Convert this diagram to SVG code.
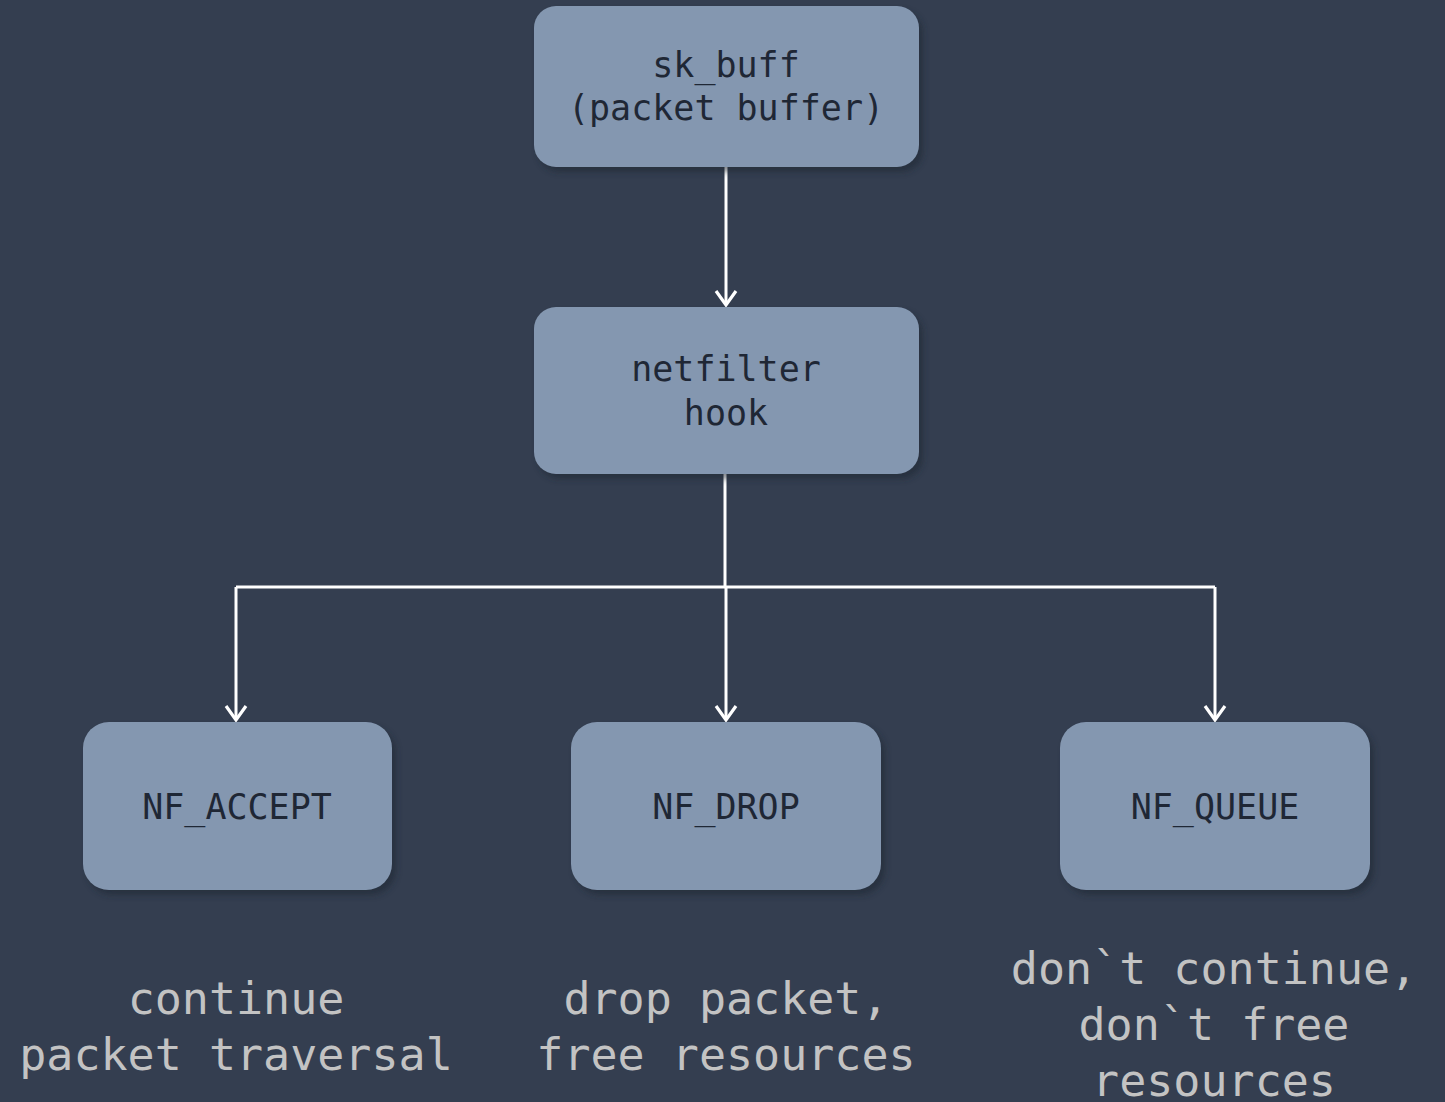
<svg xmlns="http://www.w3.org/2000/svg" width="1445" height="1102" viewBox="0 0 1445 1102">
<style>
.node rect.box{fill:#8497b0;}
.node rect.sh{fill:#1f2633;opacity:0.55;}
.nt{font-family:"DejaVu Sans Mono","Liberation Mono",monospace;font-size:35px;fill:#1f2735;text-anchor:middle;}
.lb{font-family:"DejaVu Sans Mono","Liberation Mono",monospace;font-size:45px;fill:#c3c3c3;text-anchor:middle;}
.conn{stroke:#ffffff;stroke-width:3;fill:none;}
</style>
<defs>
<filter id="blur" x="-10%" y="-10%" width="120%" height="130%"><feGaussianBlur stdDeviation="3"/></filter>
<marker id="arr" viewBox="0 0 24 24" markerWidth="24" markerHeight="24" refX="19" refY="12" orient="auto" markerUnits="userSpaceOnUse">
<path d="M5 2 L19 12 L5 22" fill="none" stroke="#ffffff" stroke-width="3.2"/>
</marker>
</defs>
<rect width="1445" height="1102" fill="#343e50"/>
<g id="connectors">
<path class="conn" d="M726 167 V305" marker-end="url(#arr)"/>
<path class="conn" d="M725 474 V587"/>
<path class="conn" d="M236 587 H1215"/>
<path class="conn" d="M236 587 V720" marker-end="url(#arr)"/>
<path class="conn" d="M726 587 V720" marker-end="url(#arr)"/>
<path class="conn" d="M1215 587 V720" marker-end="url(#arr)"/>
</g>
<g id="node-skbuff" class="node">
<rect class="sh" x="538" y="11" width="385" height="161" rx="22" filter="url(#blur)"/>
<rect class="box" x="534" y="6" width="385" height="161" rx="22"/>
<text class="nt" x="726" y="77">sk_buff</text>
<text class="nt" x="726" y="120">(packet buffer)</text>
</g>
<g id="node-hook" class="node">
<rect class="sh" x="538" y="312" width="385" height="167" rx="22" filter="url(#blur)"/>
<rect class="box" x="534" y="307" width="385" height="167" rx="22"/>
<text class="nt" x="726" y="381">netfilter</text>
<text class="nt" x="726" y="425">hook</text>
</g>
<g id="node-accept" class="node">
<rect class="sh" x="87" y="727" width="309" height="168" rx="26" filter="url(#blur)"/>
<rect class="box" x="83" y="722" width="309" height="168" rx="26"/>
<text class="nt" x="237" y="819">NF_ACCEPT</text>
</g>
<g id="node-drop" class="node">
<rect class="sh" x="575" y="727" width="310" height="168" rx="26" filter="url(#blur)"/>
<rect class="box" x="571" y="722" width="310" height="168" rx="26"/>
<text class="nt" x="726" y="819">NF_DROP</text>
</g>
<g id="node-queue" class="node">
<rect class="sh" x="1064" y="727" width="310" height="168" rx="26" filter="url(#blur)"/>
<rect class="box" x="1060" y="722" width="310" height="168" rx="26"/>
<text class="nt" x="1215" y="819">NF_QUEUE</text>
</g>
<g id="label-accept">
<text class="lb" x="236" y="1014">continue</text>
<text class="lb" x="236" y="1070">packet traversal</text>
</g>
<g id="label-drop">
<text class="lb" x="726" y="1014">drop packet,</text>
<text class="lb" x="726" y="1070">free resources</text>
</g>
<g id="label-queue">
<text class="lb" x="1214" y="984">don`t continue,</text>
<text class="lb" x="1214" y="1040">don`t free</text>
<text class="lb" x="1214" y="1096">resources</text>
</g>
</svg>
